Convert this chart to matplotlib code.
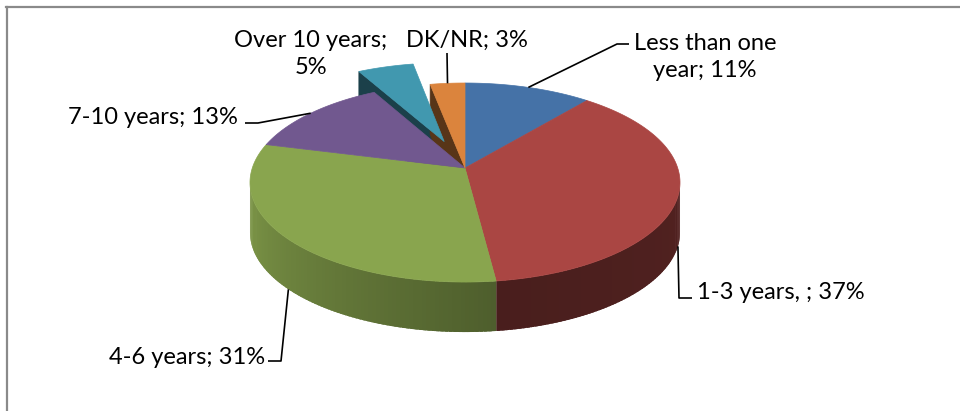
import numpy as np
import matplotlib
matplotlib.use('Agg')
import matplotlib.pyplot as plt
from matplotlib.patches import Polygon
from matplotlib.lines import Line2D
from matplotlib.colors import to_rgb

# ---------------- data ----------------
categories = ['Less than one year', '1-3 years, ', '4-6 years', '7-10 years', 'Over 10 years', 'DK/NR']
values = [11, 37, 31, 13, 5, 3]
label_texts = ['Less than one\nyear; 11%', '1-3 years, ; 37%', '4-6 years; 31%',
               '7-10 years; 13%', 'Over 10 years;\n5%', 'DK/NR; 3%']
explode = [0, 0, 0, 0, 0.3, 0]

# ---------------- style / layout ----------------
colors = ['#4572a7', '#aa4643', '#89a54e', '#71588f', '#4198af', '#db843d']
wall_shade = [(0.5, 0.5), (0.48, 0.43), (0.57, 0.92), (0.9, 0.9), (0.42, 0.42), (0.40, 0.40)]
CX, CY = 465, 168          # apex of the pie (pixels)
RX, RY = 212.7, 97.4       # radii
K = 0.146                  # perspective strength
DEPTH = 50                 # wall height (pixels)
FONT = ['Lato', 'DejaVu Sans']
FS = 17
LS = 1.35
label_pos = [(705, 57), (781, 292), (187, 357), (153, 117), (311, 54), (467, 40)]
# leader paths from anchor: intermediate points (None = no leader)
leader_pts = [[(617, 44), (629, 44)], [(679, 298), (692, 298)], [(281, 361), (268, 361)],
              [(258, 123), (245, 123)], None, [(447, 53)]]
anchor_bottom = [False, True, True, False, False, False]

fig = plt.figure(figsize=(9.6, 4.11), dpi=100)
ax = fig.add_axes([0, 0, 1, 1])
ax.set_xlim(0, 960)
ax.set_ylim(411, 0)
ax.axis('off')


def proj(theta, off=(0.0, 0.0), drop=0.0, rim=True):
    t = np.radians(theta)
    X = (np.sin(t) if rim else 0.0) + off[0]
    Z = (-np.cos(t) if rim else 0.0) + off[1]
    w = 1.0 / (1.0 - K * Z)
    return CX + RX * X * w, CY + RY * Z * w + drop


total = float(sum(values))
angles = np.concatenate([[0], np.cumsum(values) / total * 360.0])
theta_s = np.degrees(np.arccos(-K))
offsets = []
for i in range(len(values)):
    mid = (angles[i] + angles[i + 1]) / 2
    tm = np.radians(mid)
    offsets.append((explode[i] * np.sin(tm), -explode[i] * np.cos(tm)))


def shade(c, f):
    r, g, b = to_rgb(c)
    return (r * f, g * f, b * f)


n = len(values)
# radial walls (visible only next to an exploded slice)
for i in range(n):
    t1, t2 = angles[i], angles[i + 1]
    off = offsets[i]
    prev_ex = explode[i - 1] > 0
    next_ex = explode[(i + 1) % n] > 0
    col = shade(colors[i], wall_shade[i][0])
    cands = []
    if np.sin(np.radians(t1)) < -1e-9 and (explode[i] > 0 or prev_ex):
        cands.append(t1)
    if np.sin(np.radians(t2)) > 1e-9 and (explode[i] > 0 or next_ex):
        cands.append(t2)
    for t in cands:
        a = proj(t, off, rim=False)
        p = proj(t, off)
        pts = [a, p, (p[0], p[1] + DEPTH), (a[0], a[1] + DEPTH)]
        ax.add_patch(Polygon(pts, closed=True, facecolor=col, edgecolor=col, lw=0.5))

# outer walls (many thin overlapping strips for the shading gradient)
for i in range(n):
    lo = max(angles[i], theta_s)
    hi = min(angles[i + 1], 360 - theta_s)
    if hi <= lo:
        continue
    off = offsets[i]
    m = max(int((hi - lo) / 1.0), 2)
    ts = np.linspace(lo, hi, m + 1)
    f0, f1 = wall_shade[i]
    for j, (a, b) in enumerate(zip(ts[:-1], ts[1:])):
        frac = ((a + b) / 2 - lo) / (hi - lo)
        col = shade(colors[i], f0 + (f1 - f0) * frac)
        b2 = min(b + 0.8, hi) if j < m - 1 else b
        arc = np.linspace(a, b2, 4)
        top = [proj(t, off) for t in arc]
        bot = [(x, y + DEPTH) for x, y in top[::-1]]
        ax.add_patch(Polygon(top + bot, closed=True, facecolor=col, edgecolor='none', lw=0))

# top faces (back ones first)
order = sorted(range(n), key=lambda i: offsets[i][1])
for i in order:
    off = offsets[i]
    ts = np.linspace(angles[i], angles[i + 1], max(int(angles[i + 1] - angles[i]), 2) + 1)
    pts = [proj(0, off, rim=False)] + [proj(t, off) for t in ts]
    ax.add_patch(Polygon(pts, closed=True, facecolor=colors[i], edgecolor=colors[i], lw=0.5))

# labels and leader lines
for i in range(n):
    ax.text(label_pos[i][0], label_pos[i][1], label_texts[i], ha='center', va='center',
            fontsize=FS, family=FONT, linespacing=LS, color='black')
    if leader_pts[i] is None:
        continue
    mid = (angles[i] + angles[i + 1]) / 2
    anc = proj(mid, offsets[i], drop=DEPTH if anchor_bottom[i] else 0)
    path = [anc] + leader_pts[i]
    xs, ys = zip(*path)
    ax.plot(xs, ys, color='black', lw=1.2, solid_capstyle='butt')

# chart frame (top and left border)
fig.add_artist(Line2D([6 / 960, 1], [1 - 7.5 / 411, 1 - 7.5 / 411], color='#8a8a8a', lw=1.6))
fig.add_artist(Line2D([6.5 / 960, 6.5 / 960], [0, 1 - 7 / 411], color='#8a8a8a', lw=1.6))

fig.savefig('out.png', dpi=100, facecolor='white')
